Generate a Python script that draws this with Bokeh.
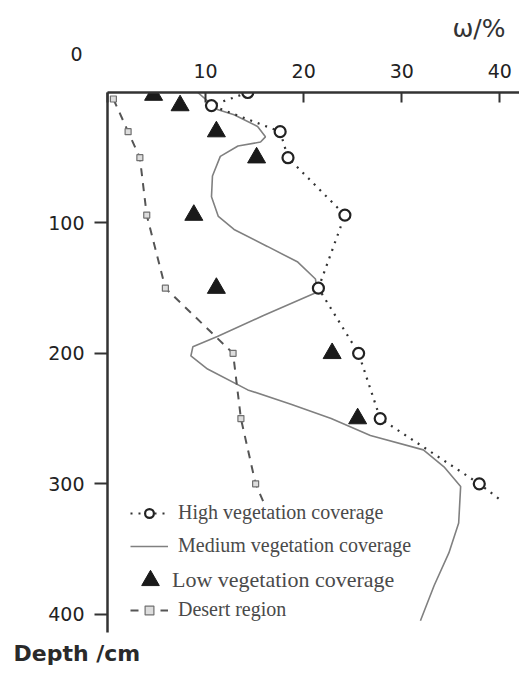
from bokeh.plotting import figure
from bokeh.models import Range1d, FixedTicker, Legend, LegendItem, Title
from bokeh.embed import file_html
from bokeh.resources import INLINE

# ---- data ----
x_ticks = [0, 10, 20, 30, 40]
y_ticks = [100, 200, 300, 400]

high_depth = [0, 10, 30, 50, 94, 150, 200, 250, 300]
high_val = [14.3, 10.6, 17.6, 18.4, 24.2, 21.5, 25.6, 27.8, 37.9]
high_line_depth = [0, 10, 30, 50, 94, 150, 200, 250, 300, 312]
high_line_val = [14.3, 10.6, 17.6, 18.4, 24.2, 21.5, 25.6, 27.8, 37.9, 40.0]

med_depth = [0, 13, 17, 26, 34, 38, 41, 49, 64, 80, 95, 105, 118, 130, 143, 153,
             171, 187, 195, 202, 212, 228, 239, 250, 263, 274, 287, 302, 330, 353, 378, 405]
med_val = [9.2, 11.2, 12.9, 15.3, 16.1, 15.6, 13.3, 11.5, 10.7, 10.6, 11.3, 12.9, 16.3, 19.4, 21.2, 21.4,
           15.9, 11.2, 8.7, 8.5, 10.2, 14.3, 18.7, 22.8, 26.8, 32.2, 34.3, 36.0, 35.8, 34.8, 33.3, 31.9]

low_depth = [2, 10, 30, 50, 94, 150, 200, 250]
low_val = [4.7, 7.4, 11.1, 15.2, 8.8, 11.1, 22.9, 25.5]

desert_depth = [5, 30, 50, 94, 150, 200, 250, 300]
desert_val = [0.6, 2.1, 3.3, 4.0, 5.9, 12.8, 13.6, 15.1]
desert_line_depth = [5, 30, 50, 94, 150, 200, 250, 300, 314]
desert_line_val = [0.6, 2.1, 3.3, 4.0, 5.9, 12.8, 13.6, 15.1, 15.9]

labels = ["High vegetation coverage", "Medium vegetation coverage",
          "Low vegetation coverage", "Desert region"]

# ---- figure ----
p = figure(width=519, height=672, x_range=Range1d(0, 42), y_range=Range1d(414, 0),
           x_axis_location="above", output_backend="svg", toolbar_location=None,
           min_border_left=107, min_border_top=92, min_border_right=0, min_border_bottom=40,
           title="ω/%", title_location="above")
p.outline_line_color = None
p.grid.visible = False
p.title.align = "right"
p.title.text_font = "DejaVu Sans"
p.title.text_font_size = "25px"
p.title.text_font_style = "normal"
p.title.text_color = "#333333"
p.title.offset = 14
p.title.standoff = 4

FONT = "DejaVu Sans"
ax = p.xaxis[0]
ax.ticker = FixedTicker(ticks=x_ticks)
ax.major_label_overrides = {0: ""}
ax.major_tick_in = 10
ax.major_tick_out = 0
ax.minor_tick_line_color = None
ax.axis_line_width = 2.5
ax.axis_line_color = "#333333"
ax.major_tick_line_width = 2
ax.major_tick_line_color = "#333333"
ax.major_label_text_font = FONT
ax.major_label_text_font_size = "19px"
ax.major_label_text_color = "#222222"
ax.major_label_standoff = 15

ay = p.yaxis[0]
ay.ticker = FixedTicker(ticks=y_ticks)
ay.major_tick_in = 0
ay.major_tick_out = 13
ay.minor_tick_line_color = None
ay.axis_line_width = 2.5
ay.axis_line_color = "#333333"
ay.major_tick_line_width = 2
ay.major_tick_line_color = "#333333"
ay.major_label_text_font = FONT
ay.major_label_text_font_size = "19px"
ay.major_label_text_color = "#222222"
ay.major_label_standoff = 10

# corner "0" (shared origin label), placed in the top panel
zero_title = Title(text="0", align="left", offset=-37, standoff=0,
                   text_font=FONT, text_font_size="19px", text_font_style="normal",
                   text_color="#222222")
p.add_layout(zero_title, "above")

# depth axis title, under the plot on the left
depth_title = Title(text="Depth /cm", align="left", offset=-94, standoff=13,
                    text_font=FONT, text_font_size="22px",
                    text_font_style="bold", text_color="#2a2a2a")
p.add_layout(depth_title, "below")

# ---- series ----
r_med = p.line(med_val, med_depth, line_color="#808080", line_width=1.6)

r_des_line = p.line(desert_line_val, desert_line_depth, line_color="#555555",
                    line_width=2, line_dash="8 7")
r_des_pts = p.scatter(desert_val, desert_depth, marker="square", size=6,
                      fill_color="#dddddd", line_color="#707070", line_width=1.2)

r_high_line = p.line(high_line_val, high_line_depth, line_color="#333333",
                     line_width=2.2, line_dash="2 6")
r_high_pts = p.scatter(high_val, high_depth, marker="circle", size=11, fill_color="white",
                       line_color="#222222", line_width=2.2)

r_low = p.scatter(low_val, low_depth, marker="triangle", size=18, fill_color="#1a1a1a",
                  line_color="#1a1a1a")


def make_legend(label, renderers, loc, gw, gh, font_size, standoff):
    lg = Legend(items=[LegendItem(label=label, renderers=renderers)], location=loc)
    lg.border_line_color = None
    lg.background_fill_alpha = 0
    lg.padding = 0
    lg.margin = 0
    lg.label_height = gh
    lg.glyph_height = gh
    lg.glyph_width = gw
    lg.label_standoff = standoff
    lg.label_text_font = "Liberation Serif"
    lg.label_text_font_size = font_size
    lg.label_text_color = "#4a4a4a"
    lg.label_text_baseline = "middle"
    return lg


p.add_layout(make_legend(labels[0], [r_high_line, r_high_pts], (23, 108), 38, 22, "20px", 10))
p.add_layout(make_legend(labels[1], [r_med], (23, 75), 38, 22, "20px", 10))
p.add_layout(make_legend(labels[2], [r_low], (21, 30), 44, 44, "22px", 0))
p.add_layout(make_legend(labels[3], [r_des_line, r_des_pts], (23, 11), 38, 22, "20px", 10))

open("out.html", "w").write(file_html(p, INLINE))
